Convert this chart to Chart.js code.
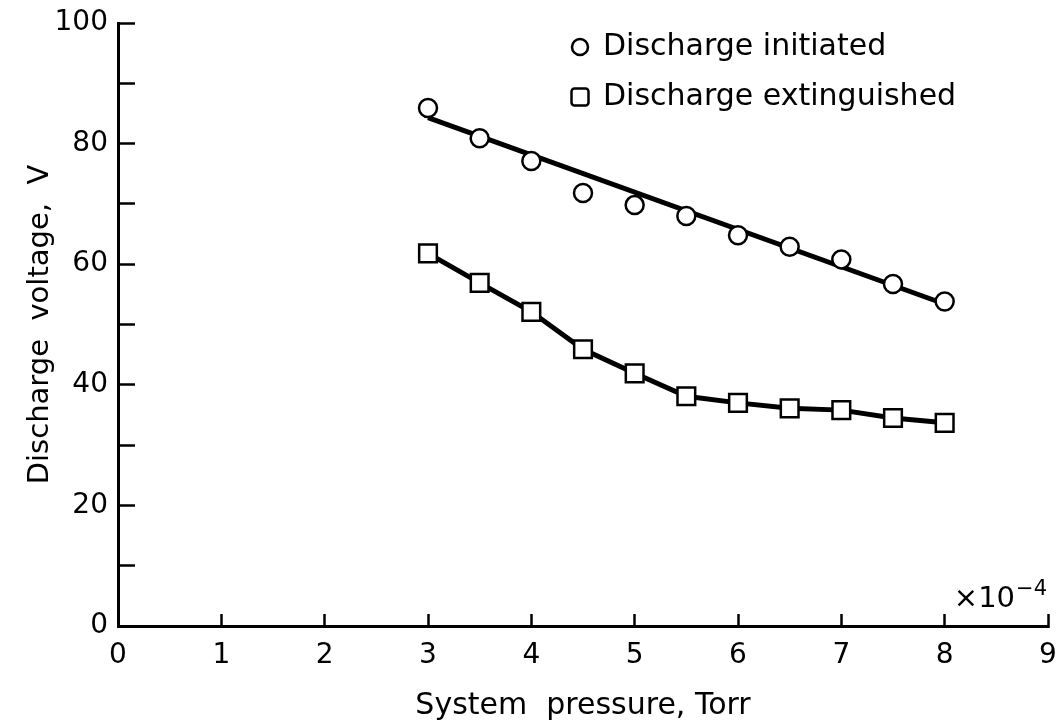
<!DOCTYPE html>
<html>
<head>
<meta charset="utf-8">
<script src="https://cdn.jsdelivr.net/npm/chart.js@4.4.1/dist/chart.umd.min.js"></script>
<style>
  body { margin: 0; background: #ffffff; }
  #wrap { width: 1060px; height: 726px; position: relative; }
</style>
</head>
<body>
<div id="wrap"><canvas id="dischargeChart"></canvas></div>
<script>
// data (pressure in 1e-4 Torr, voltage in V)
var pressure = [3, 3.5, 4, 4.5, 5, 5.5, 6, 6.5, 7, 7.5, 8];
var initiated = [85.9, 80.9, 77.1, 71.8, 69.8, 68.0, 64.8, 62.9, 60.8, 56.7, 53.8];
var extinguished = [61.8, 56.9, 52.1, 45.9, 41.9, 38.1, 37.0, 36.1, 35.8, 34.5, 33.7];
// straight fitted line through the "initiated" points
var fitPressure = [3, 8];
var fitInitiated = [84.3, 53.4];

var xTicks = [0, 1, 2, 3, 4, 5, 6, 7, 8, 9];
var yLabelStep = 20;

var FONT = 'DejaVu Sans';

function toPoints(xs, ys) {
    return xs.map(function (x, i) { return { x: x, y: ys[i] }; });
}

// legend drawn inside the plot, top right
var legendPlugin = {
    id: 'insideLegend',
    afterDraw: function (chart) {
        var ctx = chart.ctx;
        var area = chart.chartArea;
        var items = chart.data.datasets.filter(function (d) { return d.inLegend; });
        ctx.save();
        ctx.font = '30px "' + FONT + '"';
        ctx.fillStyle = '#000';
        ctx.textBaseline = 'alphabetic';
        ctx.textAlign = 'left';
        items.forEach(function (d, i) {
            var mx = area.left + 462;
            var my = 47 + i * 50;
            ctx.lineWidth = 2.5;
            ctx.strokeStyle = '#000';
            ctx.beginPath();
            if (d.pointStyle === 'circle') {
                ctx.arc(mx, my, 8, 0, Math.PI * 2);
            } else {
                ctx.roundRect(mx - 8.5, my - 8.5, 17, 17, 3);
            }
            ctx.stroke();
            ctx.fillText(d.label, area.left + 485, my + 8);
        });
        ctx.restore();
    }
};

// "x10^-4" multiplier above the right end of the x axis
var multiplierPlugin = {
    id: 'multiplier',
    afterDraw: function (chart) {
        var ctx = chart.ctx;
        var xs = chart.scales.x;
        var right = xs.getPixelForValue(9) - 1;
        var base = chart.chartArea.bottom - 19;
        ctx.save();
        ctx.fillStyle = '#000';
        ctx.textAlign = 'right';
        ctx.textBaseline = 'alphabetic';
        ctx.font = '21px "' + FONT + '"';
        var sup = '\u22124';
        ctx.fillText(sup, right, base - 12);
        var w = ctx.measureText(sup).width;
        ctx.font = '29px "' + FONT + '"';
        ctx.fillText('\u00d710', right - w - 1, base);
        ctx.restore();
    }
};

var ctx = document.getElementById('dischargeChart').getContext('2d');

var chart = new Chart(ctx, {
    type: 'scatter',
    data: {
        datasets: [{
            label: 'Discharge initiated',
            data: toPoints(pressure, initiated),
            pointStyle: 'circle',
            pointRadius: 9,
            pointBackgroundColor: '#ffffff',
            pointBorderColor: '#000000',
            pointBorderWidth: 2.5,
            showLine: false,
            inLegend: true,
            order: 1
        }, {
            label: 'fit',
            data: toPoints(fitPressure, fitInitiated),
            showLine: true,
            borderColor: '#000000',
            borderWidth: 5,
            pointRadius: 0,
            order: 3
        }, {
            label: 'Discharge extinguished',
            data: toPoints(pressure, extinguished),
            showLine: true,
            borderColor: '#000000',
            borderWidth: 5,
            pointStyle: 'rect',
            pointRadius: 12.5,
            pointBackgroundColor: '#ffffff',
            pointBorderColor: '#000000',
            pointBorderWidth: 2.5,
            inLegend: true,
            order: 2
        }]
    },
    options: {
        responsive: true,
        maintainAspectRatio: false,
        animation: false,
        layout: {
            autoPadding: false,
            padding: { top: 23, right: 12, left: 0, bottom: 0 }
        },
        scales: {
            x: {
                type: 'linear',
                min: 0,
                max: 9,
                // fixed axis box; tick padding otherwise widens the layout padding
                afterFit: function (s) {
                    s.height = 100;
                    s.paddingLeft = 0;
                    s.paddingRight = 0;
                },
                afterBuildTicks: function (s) {
                    s.ticks = xTicks.map(function (v) { return { value: v }; });
                },
                border: { display: true, color: '#000', width: 3 },
                grid: {
                    drawOnChartArea: false,
                    drawTicks: true,
                    tickLength: -12,
                    tickWidth: 2.5,
                    tickColor: '#000'
                },
                ticks: {
                    color: '#000',
                    padding: 25,
                    maxRotation: 0,
                    font: { family: FONT, size: 28 }
                },
                title: {
                    display: true,
                    text: 'System  pressure, Torr',
                    color: '#000',
                    padding: { top: 0, bottom: 2 },
                    font: { family: FONT, size: 30 }
                }
            },
            y: {
                min: 0,
                max: 100,
                afterFit: function (s) {
                    s.width = 118;
                    s.paddingTop = 0;
                    s.paddingBottom = 0;
                },
                border: { display: true, color: '#000', width: 3 },
                grid: {
                    drawOnChartArea: false,
                    drawTicks: true,
                    tickLength: -17,
                    tickWidth: 2.5,
                    tickColor: '#000'
                },
                ticks: {
                    stepSize: 10,
                    color: '#000',
                    padding: 27,
                    font: { family: FONT, size: 28 },
                    callback: function (v) {
                        return v % yLabelStep === 0 ? String(v) : '';
                    }
                },
                title: {
                    display: true,
                    text: 'Discharge  voltage,  V',
                    color: '#000',
                    padding: { top: 23, bottom: 0 },
                    font: { family: FONT, size: 29 }
                }
            }
        },
        plugins: {
            legend: { display: false },
            tooltip: { enabled: false }
        }
    },
    plugins: [legendPlugin, multiplierPlugin]
});
</script>
</body>
</html>
